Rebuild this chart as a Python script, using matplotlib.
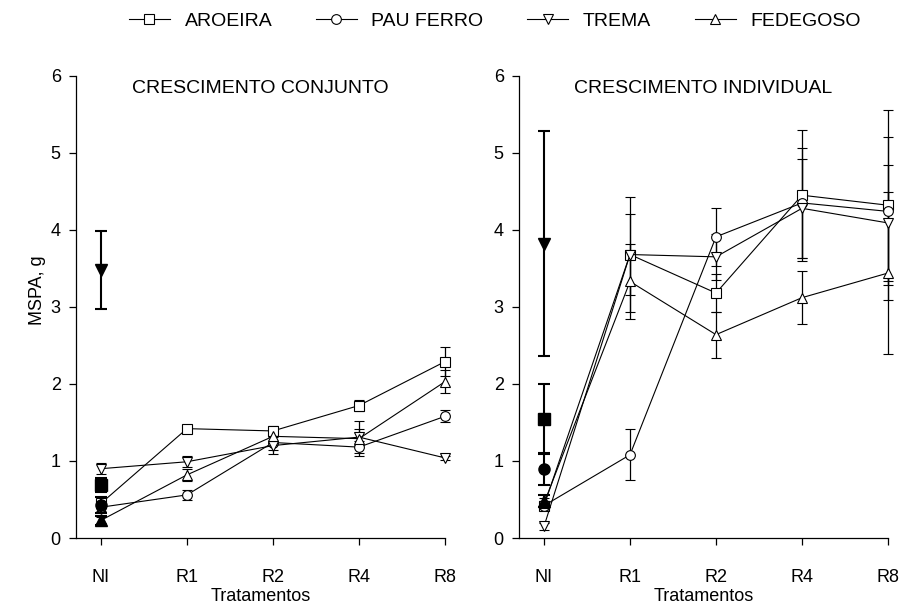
import matplotlib
matplotlib.use("Agg")
import matplotlib.pyplot as plt
from matplotlib.lines import Line2D

plt.rcParams['font.family'] = ['Liberation Sans', 'DejaVu Sans']
plt.rcParams['font.size'] = 13

treatments = ['NI', 'R1', 'R2', 'R4', 'R8']
species = ['AROEIRA', 'PAU FERRO', 'TREMA', 'FEDEGOSO']
markers = ['s', 'o', 'v', '^']

# crescimento conjunto (open symbols)
conj_aroeira = [0.45, 1.42, 1.39, 1.72, 2.29]
conj_aroeira_err = [0.05, 0.04, 0.06, 0.07, 0.19]
conj_paufer = [0.40, 0.56, 1.24, 1.18, 1.58]
conj_paufer_err = [0.05, 0.06, 0.10, 0.08, 0.08]
conj_trema = [0.90, 0.99, 1.20, 1.31, 1.04]
conj_trema_err = [0.07, 0.07, 0.11, 0.10, 0.03]
conj_fedeg = [0.23, 0.82, 1.32, 1.29, 2.03]
conj_fedeg_err = [0.04, 0.08, 0.08, 0.23, 0.15]
# not inoculated (filled symbols), NI only
conj_ni = [0.69, 0.43, 3.48, 0.23]
conj_ni_err = [0.09, 0.10, 0.51, 0.06]

# crescimento individual
ind_aroeira = [0.42, 3.68, 3.18, 4.45, 4.32]
ind_aroeira_err = [0.06, 0.75, 0.25, 0.85, 1.23]
ind_paufer = [0.42, 1.08, 3.91, 4.35, 4.24]
ind_paufer_err = [0.06, 0.33, 0.38, 0.71, 0.96]
ind_trema = [0.15, 3.68, 3.65, 4.28, 4.09]
ind_trema_err = [0.05, 0.52, 0.30, 0.64, 0.75]
ind_fedeg = [0.45, 3.33, 2.64, 3.12, 3.44]
ind_fedeg_err = [0.07, 0.49, 0.30, 0.34, 1.05]
ind_ni = [1.55, 0.89, 3.82, 0.48]
ind_ni_err = [0.45, 0.20, 1.46, 0.08]

panels = [
    ('CRESCIMENTO CONJUNTO',
     [conj_aroeira, conj_paufer, conj_trema, conj_fedeg],
     [conj_aroeira_err, conj_paufer_err, conj_trema_err, conj_fedeg_err],
     conj_ni, conj_ni_err),
    ('CRESCIMENTO INDIVIDUAL',
     [ind_aroeira, ind_paufer, ind_trema, ind_fedeg],
     [ind_aroeira_err, ind_paufer_err, ind_trema_err, ind_fedeg_err],
     ind_ni, ind_ni_err),
]

fig = plt.figure(figsize=(9.03, 6.05), dpi=100)
ax_left = fig.add_axes([0.0842, 0.1107, 0.4086, 0.764])
ax_right = fig.add_axes([0.5748, 0.1107, 0.4086, 0.764])

x = list(range(len(treatments)))

for ax, (title, series, errs, ni_vals, ni_errs) in zip([ax_left, ax_right], panels):
    for vals, err, m in zip(series, errs, markers):
        ax.errorbar(x, vals, yerr=err, color='black', lw=0.8, elinewidth=0.9,
                    capsize=3.5, capthick=0.9, marker=m, ms=7, mfc='white',
                    mec='black', mew=0.8, clip_on=False, zorder=3)
    for v, e, m in zip(ni_vals, ni_errs, markers):
        ax.errorbar([0], [v], yerr=[e], color='black', lw=0, elinewidth=1.5,
                    capsize=4.5, capthick=1.5, marker=m, ms=8, mfc='black',
                    mec='black', clip_on=False, zorder=4)
    ax.set_xlim(-0.29, 4)
    ax.set_ylim(0, 6)
    ax.set_xticks(x)
    ax.set_xticklabels(treatments)
    ax.set_yticks(range(0, 7))
    ax.spines['top'].set_visible(False)
    ax.spines['right'].set_visible(False)
    ax.spines['left'].set_linewidth(0.9)
    ax.spines['bottom'].set_linewidth(0.9)
    ax.tick_params(direction='out', length=5, width=0.9, labelsize=13)
    ax.tick_params(axis='x', pad=17)
    ax.tick_params(axis='y', pad=6)
    ax.set_xlabel('Tratamentos', fontsize=13, labelpad=2)
    ax.text(0.5, 0.99, title, transform=ax.transAxes, ha='center', va='top',
            fontsize=14)

ax_left.set_ylabel('MSPA, g', fontsize=13)
ax_left.yaxis.set_label_coords(-0.082, 0.537)

handles = [Line2D([], [], color='black', lw=0.8, marker=m, ms=7, mfc='white',
                  mec='black', mew=0.8) for m in markers]
fig.legend(handles, species, loc='upper center', bbox_to_anchor=(0.548, 1.008),
           ncol=4, frameon=False, handlelength=2.1, handletextpad=0.75,
           columnspacing=2.25, fontsize=14)

fig.savefig('out.png', dpi=100)
